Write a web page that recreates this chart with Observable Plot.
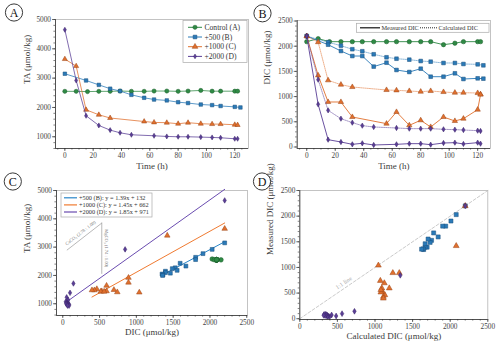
<!DOCTYPE html>
<html><head><meta charset="utf-8">
<script src="https://cdn.jsdelivr.net/npm/d3@7"></script>
<script src="https://cdn.jsdelivr.net/npm/@observablehq/plot@0.6"></script>
<style>
body{margin:0;background:#fff;}
#wrap{position:relative;width:500px;height:350px;overflow:hidden;font-family:"Liberation Serif",serif;background:#fff;}
</style></head><body><div id="wrap"></div>
<script>
// ---------------- data ----------------
const seriesNames = ["Control (A)", "+500 (B)", "+1000 (C)", "+2000 (D)"];
const seriesColors = ["#2f8a45", "#2a7ab8", "#e0702e", "#5a3e96"];
const seriesEdges = ["#1d5e2d", "#1b4f7a", "#9a4516", "#3a2468"];
const seriesSymbols = ["circle", "square", "triangle", "thin"];

const ctrlTime = [0, 8, 16, 24, 32, 39, 47, 56, 63, 72, 80, 87, 96, 104, 110, 120, 122];
const ctrlTA   = [2550, 2550, 2540, 2550, 2550, 2560, 2550, 2550, 2560, 2560, 2550, 2560, 2580, 2555, 2555, 2555, 2555];
const ctrlDICm = [2090, 2150, 2090, 2090, 2090, 2090, 2090, 2090, 2090, 2090, 2090, 2090, 2030, 2060, 2090, 2090, 2090];

const bTime = [0, 15, 24, 32, 39, 47, 56, 63, 72, 80, 87, 96, 104, 110, 120, 124];
const bTA   = [3150, 2920, 2770, 2640, 2560, 2430, 2330, 2270, 2240, 2180, 2150, 2100, 2080, 2050, 2020, 2000];
const bDICm = [2200, 2030, 1905, 1805, 1805, 1595, 1673, 1528, 1488, 1554, 1395, 1395, 1462, 1349, 1362, 1356];
const bDICc = [2200, 2080, 2010, 1940, 1900, 1840, 1780, 1752, 1733, 1706, 1693, 1667, 1667, 1647, 1640, 1620];

const cTime = [0, 8, 15, 24, 32, 56, 63, 72, 80, 87, 96, 104, 110, 120, 122];
const cTA   = [3650, 3410, 1920, 1750, 1640, 1520, 1490, 1480, 1445, 1480, 1445, 1432, 1432, 1410, 1400];
const cDICm = [2200, 1420, 893, 893, 595, 463, 695, 430, 530, 397, 595, 516, 562, 741, 1040];
const cDICc = [2200, 2080, 1323, 1237, 1190, 1131, 1124, 1111, 1098, 1111, 1091, 1078, 1078, 1071, 1045];

const dTime = [0, 8, 15, 24, 32, 39, 47, 63, 72, 80, 87, 96, 104, 110, 120, 122];
const dTA   = [4650, 2920, 1716, 1386, 1227, 1136, 1068, 1034, 1011, 1000, 1000, 989, 977, 966, 932, 932];
const dDICm = [2200, 847, 145, 99, 53, 73, 40, 53, 66, 66, 46, 79, 86, 60, 86, 66];
const dDICc = [2200, 1336, 727, 562, 483, 423, 397, 377, 364, 364, 364, 351, 344, 337, 324, 317];

// regression fits shown in panel C (B, C, D treatments)
const fitNames = ["+500 (B): y = 1.39x + 132", "+1000 (C): y = 1.45x + 662", "+2000 (D): y = 1.85x + 971"];
const fitSlope = [1.39, 1.45, 1.85];
const fitIntercept = [132, 662, 971];
const fitColors = ["#2a86c8", "#f07a30", "#6a4cb0"];

// reference vectors in panel C
const caco3DIC = [60, 530];
const caco3TA = [2900, 3850];
const mgDIC = [530, 530];
const mgTA = [3850, 2070];
const caco3Label = "CaCO\u2083 (2.78 : 1.00)";
const mgLabel = "MgCO\u2083 (1.74 : 1.00)";
const caco3LabelPos = [241, 3500];
const mgLabelPos = [590, 2960];

const oneToOne = [0, 2500];
const oneToOneLabelPos = [585, 700];

const legendB = ["Measured DIC", "Calculated DIC"];

// ---------------- helpers ----------------
const wrap = document.getElementById("wrap");
const thinDiamond = {draw(ctx, size) {
  const r = Math.sqrt(size / Math.PI) * 1.15;
  ctx.moveTo(0, -r); ctx.lineTo(r * 0.6, 0); ctx.lineTo(0, r); ctx.lineTo(-r * 0.6, 0); ctx.closePath();
}};
function sym(s) { return s === "thin" ? thinDiamond : s; }

const treat = [
  {i: 0, time: ctrlTime, ta: ctrlTA, dm: ctrlDICm, dc: null},
  {i: 1, time: bTime, ta: bTA, dm: bDICm, dc: bDICc},
  {i: 2, time: cTime, ta: cTA, dm: cDICm, dc: cDICc},
  {i: 3, time: dTime, ta: dTA, dm: dDICm, dc: dDICc}
];
function rows(s) {
  return s.time.map((t, k) => ({t, ta: s.ta[k], dm: s.dm[k], dc: s.dc ? s.dc[k] : null}));
}
const symScale = [1, 0.95, 0.9, 1.05];
function dots(data, x, y, s, r) {
  return Plot.dot(data, {x, y, symbol: sym(seriesSymbols[s.i]), r: r * symScale[s.i], fill: seriesColors[s.i], stroke: seriesEdges[s.i], strokeWidth: 0.5});
}
const range = (a, b, step) => d3.range(a, b + step / 2, step);
const fmt = d3.format("d");

function panel(o) {
  const p = Plot.plot({
    width: 250, height: 175,
    marginLeft: o.mL, marginRight: o.mR, marginTop: o.mT, marginBottom: o.mB,
    x: {domain: o.x, label: null}, y: {domain: o.y, label: null},
    style: {fontFamily: "'Liberation Serif', serif", fontSize: "7.3px", background: "transparent", overflow: "visible", color: "#333"},
    marks: [
      Plot.frame({stroke: "#b5b5b5", strokeWidth: 0.8}),
      ...o.marks,
      Plot.ruleY([o.y[0]], {stroke: "#333", strokeWidth: 0.8}),
      Plot.ruleX([o.x[0]], {stroke: "#333", strokeWidth: 0.8}),
      Plot.axisX({ticks: o.xTicks, tickFormat: fmt, tickSize: 3, tickPadding: 1.5, label: null, stroke: "#333", fill: "#444", strokeWidth: 0.7}),
      Plot.axisX({ticks: o.xMinor, tickSize: 1.6, fill: "none", label: null, stroke: "#333", strokeWidth: 0.6}),
      Plot.axisY({ticks: o.yTicks, tickFormat: fmt, tickSize: 3, tickPadding: 1.5, label: null, stroke: "#333", fill: "#444", strokeWidth: 0.7}),
      Plot.axisY({ticks: o.yMinor, tickSize: 1.6, fill: "none", label: null, stroke: "#333", strokeWidth: 0.6}),
      Plot.text([o.xLabel], {frameAnchor: "bottom", dy: o.xdy, fontSize: 9, fill: "#3a3a3a"}),
      Plot.text([o.yLabel], {frameAnchor: "left", dx: o.ydx, rotate: -90, fontSize: 9, fill: "#3a3a3a"})
    ]
  });
  p.style.position = "absolute"; p.style.left = o.left + "px"; p.style.top = o.top + "px";
  wrap.append(p);
}

// ---------------- Panel A ----------------
const marksA = [];
treat.forEach(s => {
  const d = rows(s);
  marksA.push(Plot.line(d, {x: "t", y: "ta", stroke: seriesColors[s.i], strokeWidth: 0.9, strokeOpacity: 0.85}));
  marksA.push(dots(d, "t", "ta", s, 2.1));
});
panel({left: 0, top: 0, mL: 55, mR: 2, mT: 19, mB: 27, x: [-6.6, 129.7], y: [600, 5000],
  xTicks: range(0, 120, 20), xMinor: range(-5, 125, 5), yTicks: range(1000, 5000, 1000), yMinor: range(600, 5000, 200),
  xLabel: "Time (h)", yLabel: "TA (\u03bcmol/kg)", xdy: 20, ydx: -28, marks: marksA});

// ---------------- Panel B ----------------
const marksB = [];
treat.forEach(s => {
  const d = rows(s);
  if (s.dc) {
    marksB.push(Plot.line(d, {x: "t", y: "dc", stroke: seriesColors[s.i], strokeWidth: 0.9, strokeOpacity: 0.6, strokeDasharray: "1.2,1"}));
  }
  marksB.push(Plot.line(d, {x: "t", y: "dm", stroke: seriesColors[s.i], strokeWidth: 1, strokeOpacity: 0.9}));
  if (s.dc) marksB.push(dots(d, "t", "dc", s, 2.2));
  marksB.push(dots(d, "t", "dm", s, 2.2));
});
panel({left: 250, top: 0, mL: 46.7, mR: 10, mT: 20, mB: 27, x: [-6.7, 129], y: [-30, 2510],
  xTicks: range(0, 120, 20), xMinor: range(-5, 125, 5), yTicks: range(0, 2500, 500), yMinor: range(0, 2500, 100),
  xLabel: "Time (h)", yLabel: "DIC (\u03bcmol/kg)", xdy: 20, ydx: -30, marks: marksB});

// ---------------- Panel C ----------------
const marksC = [];
marksC.push(Plot.line(caco3DIC.map((v, k) => ({x: v, y: caco3TA[k]})), {x: "x", y: "y", stroke: "#999", strokeWidth: 0.7}));
marksC.push(Plot.line(mgDIC.map((v, k) => ({x: v, y: mgTA[k]})), {x: "x", y: "y", stroke: "#999", strokeWidth: 0.7}));
marksC.push(Plot.text([caco3Label], {x: () => caco3LabelPos[0], y: () => caco3LabelPos[1], rotate: -37.6, fontSize: 4.6, fill: "#777"}));
marksC.push(Plot.text([mgLabel], {x: () => mgLabelPos[0], y: () => mgLabelPos[1], rotate: 90, fontSize: 4.6, fill: "#777"}));
treat.slice(1).forEach((s, j) => {
  const ext = d3.extent(s.dm);
  const fit = ext.map(x => ({x, y: fitSlope[j] * x + fitIntercept[j]}));
  marksC.push(Plot.line(fit, {x: "x", y: "y", stroke: fitColors[j], strokeWidth: 1}));
});
treat.forEach(s => marksC.push(dots(rows(s), "dm", "ta", s, 2.3)));
panel({left: 0, top: 175, mL: 56, mR: 3, mT: 15, mB: 35, x: [-85, 2510], y: [585, 5000],
  xTicks: range(0, 2500, 500), xMinor: range(0, 2500, 100), yTicks: range(1000, 5000, 1000), yMinor: range(600, 5000, 200),
  xLabel: "DIC (\u03bcmol/kg)", yLabel: "TA (\u03bcmol/kg)", xdy: 19, ydx: -29.5, marks: marksC});

// ---------------- Panel D ----------------
const marksD = [];
marksD.push(Plot.line(oneToOne.map(v => ({x: v, y: v})), {x: "x", y: "y", stroke: "#bdbdbd", strokeWidth: 0.8, strokeDasharray: "3,2"}));
marksD.push(Plot.text(["1:1 line"], {x: () => oneToOneLabelPos[0], y: () => oneToOneLabelPos[1], rotate: -34.2, fontSize: 6, fill: "#aaa"}));
treat.slice(1).forEach(s => marksD.push(dots(rows(s), "dc", "dm", s, 2.4)));
panel({left: 250, top: 175, mL: 49.3, mR: 12.7, mT: 15, mB: 31, x: [0, 2500], y: [-15, 2500],
  xTicks: range(0, 2500, 500), xMinor: range(0, 2500, 100), yTicks: range(0, 2500, 500), yMinor: range(0, 2500, 100),
  xLabel: "Calculated DIC (\u03bcmol/kg)", yLabel: "Measured DIC (\u03bcmol/kg)", xdy: 19, ydx: -29.5, marks: marksD});

// ---------------- overlay: legends and panel letters ----------------
const ov = d3.select(wrap).append("svg").attr("width", 500).attr("height", 350)
  .style("position", "absolute").style("left", 0).style("top", 0)
  .style("font-family", "'Liberation Serif', serif");

const letters = ["A", "B", "C", "D"];
const letterPos = [[14, 12.5], [262.5, 13.3], [12.8, 181.5], [262, 181.5]];
letters.forEach((L, k) => {
  const g = ov.append("g").attr("transform", `translate(${letterPos[k][0]},${letterPos[k][1]})`);
  g.append("circle").attr("r", 8.6).attr("fill", "#fff").attr("stroke", "#222").attr("stroke-width", 0.9);
  g.append("text").text(L).attr("text-anchor", "middle").attr("dy", "0.36em").attr("font-size", 12).attr("fill", "#111");
});

function symbolPath(k, r) {
  const s = seriesSymbols[k];
  const type = s === "thin" ? thinDiamond : {circle: d3.symbolCircle, square: d3.symbolSquare, triangle: d3.symbolTriangle}[s];
  return d3.symbol(type, r * r * Math.PI)();
}

const lgA = ov.append("g");
lgA.append("rect").attr("x", 183).attr("y", 20.5).attr("width", 64).attr("height", 42).attr("fill", "#fff").attr("stroke", "#aaa").attr("stroke-width", 0.7);
seriesNames.forEach((n, k) => {
  const y = 27.3 + k * 9.7;
  lgA.append("line").attr("x1", 188).attr("x2", 202).attr("y1", y).attr("y2", y).attr("stroke", seriesColors[k]).attr("stroke-width", 1);
  lgA.append("path").attr("d", symbolPath(k, 2.1)).attr("transform", `translate(195,${y})`).attr("fill", seriesColors[k]).attr("stroke", seriesEdges[k]).attr("stroke-width", 0.5);
  lgA.append("text").text(n).attr("x", 204.5).attr("y", y).attr("dy", "0.33em").attr("font-size", 7.6).attr("fill", "#333");
});

const lgB = ov.append("g");
lgB.append("rect").attr("x", 356.5).attr("y", 23.3).attr("width", 132.5).attr("height", 9).attr("fill", "#fff").attr("stroke", "#aaa").attr("stroke-width", 0.7);
lgB.append("line").attr("x1", 360).attr("x2", 380).attr("y1", 27.8).attr("y2", 27.8).attr("stroke", "#111").attr("stroke-width", 1.2);
lgB.append("text").text(legendB[0]).attr("x", 381.5).attr("y", 27.8).attr("dy", "0.33em").attr("font-size", 6.3).attr("fill", "#333");
lgB.append("line").attr("x1", 420).attr("x2", 437).attr("y1", 27.8).attr("y2", 27.8).attr("stroke", "#111").attr("stroke-width", 0.9).attr("stroke-dasharray", "1,1");
lgB.append("text").text(legendB[1]).attr("x", 438.5).attr("y", 27.8).attr("dy", "0.33em").attr("font-size", 6.3).attr("fill", "#333");

const lgC = ov.append("g");
lgC.append("rect").attr("x", 61).attr("y", 193).attr("width", 91).attr("height", 24).attr("fill", "#fff").attr("stroke", "#aaa").attr("stroke-width", 0.7);
fitNames.forEach((n, k) => {
  const y = 197.8 + k * 7.1;
  lgC.append("line").attr("x1", 64).attr("x2", 77).attr("y1", y).attr("y2", y).attr("stroke", fitColors[k]).attr("stroke-width", 1.2);
  lgC.append("text").text(n).attr("x", 79).attr("y", y).attr("dy", "0.33em").attr("font-size", 6.3).attr("fill", "#333");
});
</script></body></html>
